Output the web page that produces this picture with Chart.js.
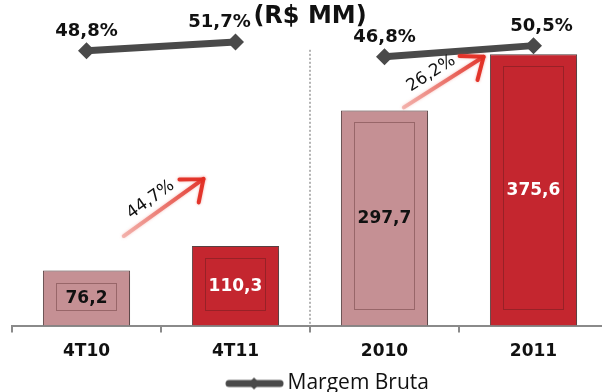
<!DOCTYPE html>
<html>
<head>
<meta charset="utf-8">
<script src="https://cdn.jsdelivr.net/npm/chart.js@4.4.1/dist/chart.umd.min.js"></script>
<style>
    html, body { margin: 0; padding: 0; background: #fff; overflow: hidden; }
    #wrap { width: 620px; height: 404px; }
</style>
</head>
<body>
<div id="wrap"><canvas id="myChart" width="620" height="404"></canvas></div>
<script>
// receita (R$ MM) e margem bruta por periodo
const categories = ['4T10', '4T11', '2010', '2011'];
const periods = ['trimestre', 'trimestre', 'ano', 'ano'];
const revenue = [76.2, 110.3, 297.7, 375.6];
const grossMargin = [48.8, 51.7, 46.8, 50.5];
const growth = ['44,7%', '26,2%'];

const barColors = ['#c59094', '#c4262f', '#c59094', '#c4262f'];
const valueColors = ['#111', '#fff', '#111', '#fff'];
const lineColor = '#4a4a4a';

// growth arrows, placed in (category index, revenue) space
const arrows = [
    { from: [0.25, 124], to: [0.785, 203] },
    { from: [2.13, 302], to: [2.665, 372] }
];
// small horizontal nudges for the margin labels
const marginLabelShift = [0, -16, 0, 8];

function fmt(v) {
    return v.toFixed(1).replace('.', ',');
}

// legend icon: thick line with a small diamond in the middle
const legendIcon = document.createElement('canvas');
legendIcon.width = 100;
legendIcon.height = 16;
(function () {
    let c = legendIcon.getContext('2d');
    c.strokeStyle = lineColor;
    c.fillStyle = lineColor;
    c.lineWidth = 7;
    c.lineCap = 'round';
    c.beginPath();
    c.moveTo(45, 8);
    c.lineTo(96, 8);
    c.stroke();
    c.beginPath();
    c.moveTo(70, 2);
    c.lineTo(76, 8);
    c.lineTo(70, 14);
    c.lineTo(64, 8);
    c.closePath();
    c.fill();
})();

function drawArrow(ctx, x0, y0, x1, y1, text) {
    let ang = Math.atan2(y1 - y0, x1 - x0);
    let grad = ctx.createLinearGradient(x0, y0, x1, y1);
    grad.addColorStop(0, 'rgba(235,130,120,0.5)');
    grad.addColorStop(1, 'rgba(225,45,35,0.95)');

    ctx.save();
    ctx.shadowColor = 'rgba(230,80,70,0.5)';
    ctx.shadowBlur = 3;
    ctx.lineCap = 'round';
    ctx.lineJoin = 'round';
    ctx.lineWidth = 4;
    ctx.strokeStyle = grad;
    ctx.beginPath();
    ctx.moveTo(x0, y0);
    ctx.lineTo(x1, y1);
    ctx.stroke();

    ctx.strokeStyle = 'rgba(225,45,35,0.95)';
    ctx.beginPath();
    for (let d of [0.6, -0.75]) {
        let a = ang + Math.PI + d;
        ctx.moveTo(x1, y1);
        ctx.lineTo(x1 + Math.cos(a) * 24, y1 + Math.sin(a) * 24);
    }
    ctx.stroke();
    ctx.restore();

    // rotated growth label above the shaft
    let dx = Math.cos(ang), dy = Math.sin(ang);
    let mx = (x0 + x1) / 2 + dy * 14 - dx * 6;
    let my = (y0 + y1) / 2 - dx * 14 - dy * 6;
    ctx.save();
    ctx.translate(mx, my);
    ctx.rotate(ang);
    ctx.fillStyle = '#111';
    ctx.font = '17px "DejaVu Sans"';
    ctx.textAlign = 'center';
    ctx.textBaseline = 'middle';
    ctx.fillText(text, 0, 0);
    ctx.restore();
}

const decorations = {
    id: 'decorations',
    beforeDatasetsDraw(chart) {
        // dotted divider between quarters and years
        let ctx = chart.ctx;
        let xs = chart.scales.x;
        let x = (xs.getPixelForValue(1) + xs.getPixelForValue(2)) / 2;
        ctx.save();
        ctx.strokeStyle = '#9a9a9a';
        ctx.lineWidth = 1.5;
        ctx.setLineDash([2, 2]);
        ctx.beginPath();
        ctx.moveTo(x, chart.chartArea.top + 19);
        ctx.lineTo(x, chart.chartArea.bottom);
        ctx.stroke();
        ctx.restore();
    },
    beforeDatasetDraw(chart, args) {
        if (args.index !== 0) return;
        let ctx = chart.ctx;
        ctx.save();
        ctx.shadowColor = 'rgba(0,0,0,0.3)';
        ctx.shadowBlur = 6;
        ctx.shadowOffsetX = 2;
        ctx.shadowOffsetY = 2;
    },
    afterDatasetDraw(chart, args) {
        if (args.index !== 0) return;
        let ctx = chart.ctx;
        ctx.restore();

        chart.getDatasetMeta(0).data.forEach(function (bar, i) {
            let p = bar.getProps(['x', 'y', 'base', 'width'], true);
            let left = p.x - p.width / 2;

            ctx.save();
            ctx.strokeStyle = 'rgba(70,25,25,0.35)';
            ctx.lineWidth = 1;
            ctx.strokeRect(Math.round(left + 13) + 0.5, Math.round(p.y + 12) + 0.5,
                Math.round(p.width - 27), Math.round(p.base - p.y - 28));

            ctx.fillStyle = valueColors[i];
            ctx.font = 'bold 17px "DejaVu Sans"';
            ctx.textAlign = 'center';
            ctx.textBaseline = 'middle';
            ctx.fillText(fmt(revenue[i]), p.x, (p.y + p.base) / 2 + 1);
            ctx.restore();
        });
    },
    afterDatasetsDraw(chart) {
        let ctx = chart.ctx;
        let xs = chart.scales.x, ys = chart.scales.y;

        arrows.forEach(function (a, i) {
            drawArrow(ctx,
                xs.getPixelForValue(a.from[0]), ys.getPixelForValue(a.from[1]),
                xs.getPixelForValue(a.to[0]), ys.getPixelForValue(a.to[1]),
                growth[i]);
        });

        // margin labels above the diamonds
        ctx.save();
        ctx.fillStyle = '#111';
        ctx.font = 'bold 18px "DejaVu Sans"';
        ctx.textAlign = 'center';
        ctx.textBaseline = 'alphabetic';
        chart.getDatasetMeta(1).data.forEach(function (pt, i) {
            ctx.fillText(fmt(grossMargin[i]) + '%', pt.x + marginLabelShift[i], pt.y - 15);
        });
        ctx.restore();
    }
};

new Chart('myChart', {
    data: {
        labels: categories,
        datasets: [{
            type: 'bar',
            label: 'Receita',
            data: revenue,
            yAxisID: 'y',
            order: 1,
            backgroundColor: barColors,
            borderColor: '#5d4546',
            borderWidth: 1,
            categoryPercentage: 1,
            barPercentage: 0.585
        }, {
            type: 'line',
            label: 'Margem Bruta',
            data: grossMargin,
            yAxisID: 'y1',
            order: 0,
            fill: false,
            tension: 0,
            borderColor: lineColor,
            borderWidth: 7,
            borderCapStyle: 'butt',
            pointStyle: 'rectRot',
            pointRadius: 8.5,
            pointHoverRadius: 8.5,
            pointBorderWidth: 0,
            pointBackgroundColor: lineColor,
            pointBorderColor: lineColor,
            segment: {
                borderColor: c => periods[c.p0DataIndex] === periods[c.p1DataIndex] ? lineColor : 'rgba(0,0,0,0)'
            }
        }]
    },
    options: {
        responsive: false,
        animation: false,
        devicePixelRatio: 1,
        layout: { padding: { left: 12, right: 12, top: 0, bottom: 0 } },
        font: { family: '"DejaVu Sans"' },
        plugins: {
            title: {
                display: true,
                text: '(R$ MM)',
                color: '#111',
                padding: { top: 2, bottom: 0 },
                font: { family: '"DejaVu Sans"', size: 24, weight: 'bold', lineHeight: 1.2 }
            },
            legend: {
                position: 'bottom',
                labels: {
                    usePointStyle: true,
                    pointStyleWidth: 86,
                    padding: 2,
                    color: '#111',
                    font: { family: '"Open Sans"', size: 21 },
                    filter: item => item.datasetIndex === 1,
                    generateLabels: function (chart) {
                        let items = Chart.defaults.plugins.legend.labels.generateLabels(chart);
                        for (let item of items) {
                            item.pointStyle = legendIcon;
                        }
                        return items;
                    }
                }
            },
            tooltip: { enabled: false }
        },
        scales: {
            x: {
                offset: true,
                grid: {
                    display: true,
                    offset: true,
                    drawOnChartArea: false,
                    drawTicks: true,
                    tickLength: 7,
                    color: '#8a8a8a',
                    lineWidth: 2
                },
                border: { display: true, color: '#8a8a8a', width: 2 },
                ticks: {
                    color: '#111',
                    padding: 9,
                    font: { family: '"DejaVu Sans"', size: 17, weight: 'bold' }
                }
            },
            y: { display: false, min: 0, max: 408 },
            y1: { display: false, min: -42, max: 55.4 }
        }
    },
    plugins: [decorations]
});
</script>
</body>
</html>
